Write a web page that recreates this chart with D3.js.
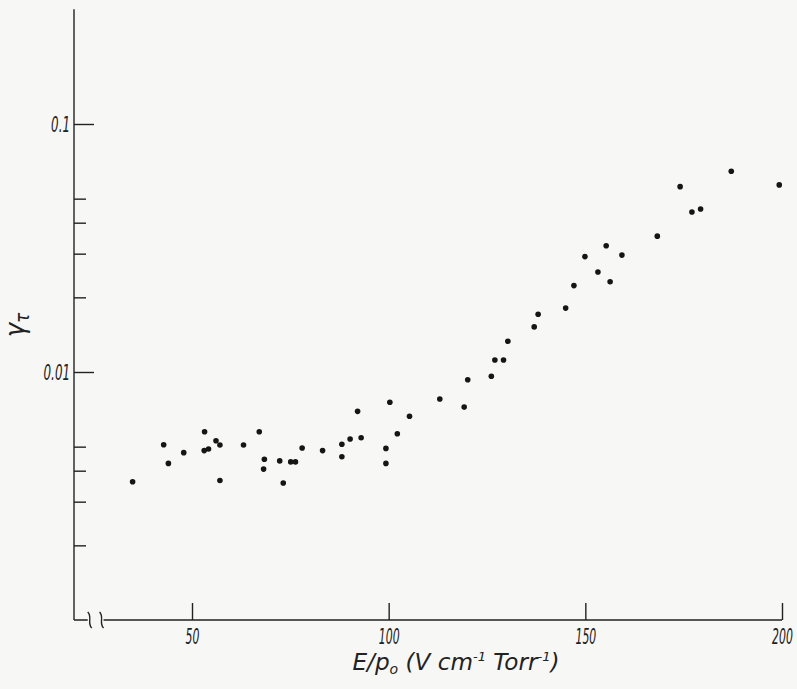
<html>
<head>
<script src="https://d3js.org/d3.v7.min.js"></script>
<style>
body { margin: 0; background: #f7f7f6; }
.axis path, .axis line { stroke: #222; stroke-width: 1.4; }
.axis text { font-family: "DejaVu Sans Condensed", "Liberation Sans Narrow", "DejaVu Sans", sans-serif; font-style: italic; fill: #222; }
.lbl { font-family: "DejaVu Sans Condensed", "Liberation Sans Narrow", "DejaVu Sans", sans-serif; font-style: italic; fill: #222; }
circle { fill: #151515; }
</style>
</head>
<body>
<svg width=797 height=689></svg>
<script>
// E/p0 (V cm^-1 Torr^-1)
const eOverP = [34.9, 42.8, 44.0, 47.9, 53.2, 53.1, 54.2, 56.1, 57.1, 57.1,
  63.1, 67.1, 68.4, 68.2, 72.3, 73.2, 75.1, 76.3, 78.0, 83.2,
  88.1, 88.1, 90.2, 92.1, 93.0, 99.3, 99.3, 100.3, 102.2, 105.3,
  113.0, 119.2, 120.1, 126.1, 127.0, 129.2, 130.3, 137.0, 138.0, 145.0,
  147.1, 156.3, 153.2, 149.9, 159.3, 155.3, 168.3, 177.1, 179.3, 174.1,
  187.1, 199.3];
// gamma_T
const gammaT = [0.00361, 0.00509, 0.00428, 0.00473, 0.00574, 0.00482, 0.00489, 0.00528, 0.00508, 0.00365,
  0.00508, 0.00574, 0.00445, 0.00406, 0.00438, 0.00357, 0.00434, 0.00434, 0.00494, 0.00482,
  0.00511, 0.00455, 0.00537, 0.00694, 0.00543, 0.00492, 0.00428, 0.00755, 0.00564, 0.00663,
  0.00778, 0.00722, 0.00931, 0.00961, 0.01118, 0.01118, 0.0133, 0.0152, 0.0171, 0.0181,
  0.0223, 0.0231, 0.0253, 0.0292, 0.0296, 0.0323, 0.0353, 0.0442, 0.0454, 0.0559,
  0.0645, 0.0568];

const xTicks = [50, 100, 150, 200];
const yMajor = [0.01, 0.1];
const yMinor = [0.002, 0.003, 0.004, 0.005, 0.02, 0.03, 0.04, 0.05];
const yLabels = ["0.01", "0.1"];

const x = d3.scaleLinear().domain([50, 200]).range([192, 782]);
const y = d3.scaleLog().domain([0.001, 0.1]).range([620, 124]);
const x0 = 20, yTop = 0.29;   // where the drawn axes start

// squeeze text sideways, the original lettering is tall and narrow
function narrow(sel, f) {
  sel.each(function() {
    const w = this.getComputedTextLength();
    d3.select(this).attr("textLength", w * f).attr("lengthAdjust", "spacingAndGlyphs");
  });
}

const svg = d3.select("svg");

// y axis
svg.append("line")
  .attr("x1", x(x0)).attr("x2", x(x0))
  .attr("y1", y(0.001)).attr("y2", y(yTop))
  .attr("stroke", "#222").attr("stroke-width", 1.4);

const gy = svg.append("g").attr("class", "axis")
  .attr("transform", "translate(" + x(x0) + ",0)")
  .call(d3.axisLeft(y).tickValues(yMajor).tickSize(-20).tickPadding(4)
        .tickFormat((d, i) => yLabels[i]));
gy.attr("font-size", 22);
gy.select(".domain").remove();
narrow(gy.selectAll("text"), 0.6);

const gy2 = svg.append("g").attr("class", "axis")
  .attr("transform", "translate(" + x(x0) + ",0)")
  .call(d3.axisLeft(y).tickValues(yMinor).tickSize(-12).tickFormat(""));
gy2.select(".domain").remove();

// x axis with break
const gx = svg.append("g").attr("class", "axis")
  .attr("transform", "translate(0," + y(0.001) + ")")
  .call(d3.axisBottom(x).tickValues(xTicks).tickSize(-17).tickPadding(8));
gx.attr("font-size", 22);
gx.select(".domain").remove();
gx.selectAll("text").attr("dy", "0.72em");
narrow(gx.selectAll("text"), 0.55);

const bx1 = x(24), bx2 = x(27);
gx.append("path")
  .attr("d", "M" + x(x0) + ",0H" + (bx1 - 2) + "M" + (bx2 + 2) + ",0H" + x(200))
  .attr("fill", "none").attr("stroke", "#222").attr("stroke-width", 1.4);
[bx1, bx2].forEach(b => {
  gx.append("path")
    .attr("d", "M" + (b - 2) + ",-8 C" + (b + 3) + ",-3 " + (b - 3) + ",3 " + (b + 2) + ",8")
    .attr("fill", "none").attr("stroke", "#222").attr("stroke-width", 1.3);
});

// points
svg.append("g").selectAll("circle")
  .data(eOverP)
  .enter()
  .append("circle")
    .attr("cx", d => x(d))
    .attr("cy", (d, i) => y(gammaT[i]))
    .attr("r", 2.8);

// axis titles
const xt = svg.append("text").attr("class", "lbl")
  .attr("x", 456).attr("y", 670)
  .attr("text-anchor", "middle").attr("font-size", 23);
xt.append("tspan").text("E/p");
xt.append("tspan").attr("font-size", 14).attr("dy", 4).text("o");
xt.append("tspan").attr("dy", -4).text(" (V cm");
xt.append("tspan").attr("font-size", 13).attr("dy", -9).text("-1");
xt.append("tspan").attr("dy", 9).text(" Torr");
xt.append("tspan").attr("font-size", 13).attr("dy", -9).text("-1");
xt.append("tspan").attr("dy", 9).text(")");
xt.attr("textLength", 207).attr("lengthAdjust", "spacingAndGlyphs");

const yt = svg.append("text").attr("class", "lbl")
  .attr("transform", "translate(24," + (y(0.01) - 47) + ") rotate(-90)")
  .attr("text-anchor", "middle").attr("font-size", 27);
yt.append("tspan").text("γ");
yt.append("tspan").attr("font-size", 19).attr("dy", 5).text("τ");
</script>
</body>
</html>
